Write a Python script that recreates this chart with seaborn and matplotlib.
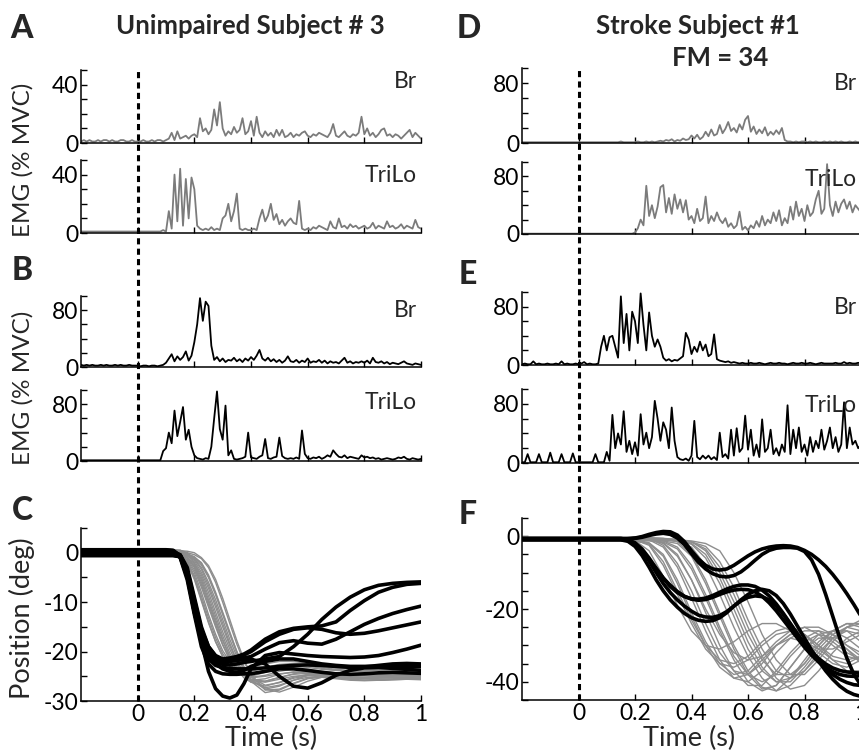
import numpy as np
import pandas as pd
import matplotlib
matplotlib.use("Agg")
import matplotlib.pyplot as plt
import seaborn as sns
from matplotlib.lines import Line2D

sns.set_theme(style="ticks")
plt.rcParams["font.family"] = ["Lato", "DejaVu Sans"]

# ---------------- EMG data (sampled every 0.01 s from -0.2 to 1.0 s) ----------------
t_emg = np.round(np.arange(-0.2, 1.0001, 0.01), 2)

emg_A_br = [1,2,1,2,1,1,2,1,2,2, 1,2,1,1,2,2,1,1,2,1,
            1,1,2,1,1,2,1,2,2,1,
            2,3,7,2,8,3,4,5,3,5,
            6,4,17,8,10,6,9,23,12,28,
            10,5,8,6,11,7,9,17,6,8,
            15,5,18,7,4,8,5,7,4,9,
            5,9,4,5,7,4,6,5,7,8,
            5,4,6,5,7,6,5,4,7,13,
            5,4,6,8,5,4,6,5,7,18,
            6,10,5,7,4,6,9,10,5,6,
            4,6,5,3,5,7,9,4,7,5,3]
emg_A_tri = [1,1,1,1,1,1,1,1,1,1, 1,1,1,1,1,1,1,1,1,1,
             1,1,1,1,1,1,1,1,1,2,
             1,15,3,40,8,44,5,37,10,38,
             30,5,3,2,3,2,4,2,3,2,
             10,12,20,8,15,27,3,2,3,2,
             2,3,2,10,16,8,12,20,9,13,
             6,9,5,8,10,7,6,22,3,2,
             3,2,4,3,5,4,3,2,8,4,
             3,10,4,5,3,6,4,5,3,4,
             5,3,4,7,3,5,4,3,8,4,
             5,3,4,6,3,5,4,3,9,4,3]
emg_B_br = [3,2,3,2,3,2,2,3,2,3, 2,2,3,2,3,2,2,3,2,2,
            2,1,2,2,1,2,2,1,2,3,
            6,12,18,8,15,10,14,22,9,16,
            35,60,97,65,92,86,30,10,14,8,
            12,7,10,9,13,8,11,7,12,9,
            14,10,16,24,12,9,13,8,11,7,
            10,6,9,15,8,7,10,6,9,7,
            12,6,8,7,10,6,9,5,8,6,
            7,5,9,13,6,8,5,7,6,8,
            6,9,5,13,7,6,8,5,7,4,
            6,5,4,6,8,5,4,3,5,4,3]
emg_B_tri = [1,1,1,1,1,1,1,1,1,1, 1,1,1,1,1,1,1,1,1,1,
             1,1,1,1,1,1,1,1,1,14,
             18,40,25,71,35,55,76,30,44,20,
             8,4,3,2,4,3,20,60,98,45,
             30,78,8,15,3,2,3,4,6,40,
             5,4,3,6,8,31,4,3,5,6,
             33,7,4,3,4,3,5,3,43,10,
             4,3,5,4,6,3,5,8,6,15,
             10,6,5,8,4,6,5,4,3,8,
             5,6,4,5,3,4,2,3,4,3,
             2,3,5,4,6,3,2,4,3,2,3]
emg_D_br = [1,1,1,1,1,1,1,1,1,1, 1,1,1,1,1,1,1,1,1,1,
            1,1,1,1,1,1,1,1,1,1,
            1,1,1,1,1,2,1,1,1,1,
            1,2,1,1,2,1,2,1,2,3,
            2,4,3,5,2,4,3,6,4,5,
            10,6,11,5,8,15,9,18,10,12,
            24,13,19,28,16,20,14,25,18,31,
            36,15,22,12,18,13,21,10,15,11,
            17,12,20,4,2,2,1,2,1,2,
            2,1,2,1,2,1,1,2,1,2,
            1,2,1,2,1,1,2,1,2,1,2]
emg_D_tri = [0.5]*20 + [0.5]*10 + [0.5]*10 + [
             2,8,20,12,67,25,40,22,38,65,
             68,30,50,28,55,35,48,30,47,20,
             25,15,35,18,22,52,15,25,18,30,
             20,15,22,10,15,8,12,31,6,10,
             5,12,8,18,10,25,12,20,15,30,
             18,33,12,22,15,38,20,45,25,35,
             18,40,25,30,48,60,28,35,97,40,
             25,45,30,42,48,35,45,30,40,35,30]
emg_E_br = [1,2,1,1,5,1,2,1,1,2, 1,1,2,1,5,1,2,1,1,2,
            1,2,4,1,2,1,1,2,25,40,
            20,38,40,25,10,94,30,70,20,73,
            60,30,98,55,20,72,40,25,35,25,
            10,6,8,5,7,6,9,12,44,35,
            15,25,18,32,20,28,12,15,42,8,
            6,5,4,5,3,4,3,2,3,2,
            2,3,2,2,3,2,1,2,3,2,
            2,3,2,2,1,2,3,2,2,3,
            2,2,3,2,1,2,3,2,2,2,
            2,3,2,2,4,2,3,2,2,3,2]
emg_E_tri = [1,1,12,1,1,1,12,1,1,1, 14,1,1,1,12,1,1,1,13,1,
             1,1,1,1,1,1,12,1,1,1,
             15,3,65,20,40,25,70,15,30,12,
             28,10,66,25,41,20,35,84,60,30,
             55,45,20,75,30,8,5,4,6,3,
             10,57,8,5,10,6,10,5,8,4,
             41,8,12,6,45,10,47,15,20,64,
             18,45,10,25,8,59,15,20,45,12,
             20,10,25,15,78,12,45,20,48,15,
             25,10,35,15,30,20,45,18,30,48,
             20,35,15,25,82,20,48,25,30,20,25]

# ---------------- Position data ----------------
t_C = [-0.2, 0.1, 0.125, 0.15, 0.175, 0.2, 0.225, 0.25, 0.275, 0.3, 0.325, 0.35, 0.375,
       0.4, 0.45, 0.5, 0.55, 0.6, 0.65, 0.7, 0.75, 0.8, 0.85, 0.9, 0.95, 1.0]

C_gray = [
    [0.3,0.3,0.3,-0.3,-2,-5,-9.5,-14,-18,-21,-23,-24,-24.5,-24.4,-23.8,-23.2,-23,-23.2,-23.6,-23.8,-23.9,-23.8,-23.6,-23.5,-23.6,-23.8],
    [-0.3,-0.3,-0.3,-0.4,-1,-3,-6.5,-10.5,-14.5,-18.5,-21.5,-23.5,-24.8,-25.3,-25,-24.5,-24.2,-24.3,-24.6,-24.9,-25,-24.9,-24.7,-24.6,-24.7,-24.9],
    [0.5,0.5,0.5,0.5,0,-2,-4.5,-8,-12,-16,-19.5,-22.5,-24.5,-25.8,-26.2,-25.6,-25,-24.8,-25,-25.3,-25.5,-25.5,-25.3,-25.2,-25.2,-25.4],
    [0,0,0,0,-0.3,-1.2,-3,-6,-9.5,-13.5,-17.5,-21,-23.8,-25.8,-27.3,-26.8,-25.8,-25.2,-25.2,-25.5,-25.8,-25.9,-25.8,-25.6,-25.5,-25.6],
    [-0.5,-0.5,-0.5,-0.5,-0.6,-0.9,-2,-4.5,-8,-12,-16,-20,-23.5,-26,-28.3,-27.8,-26.5,-25.5,-25.2,-25.3,-25.6,-25.8,-25.8,-25.7,-25.6,-25.7],
    [0.2,0.2,0.2,-0.2,-1.5,-4,-8,-12.5,-16.5,-19.8,-22,-23.3,-23.8,-23.8,-23.2,-22.6,-22.4,-22.6,-23,-23.3,-23.4,-23.3,-23.1,-23,-23.1,-23.3],
    [0.4,0.4,0.4,0.3,-0.8,-2.5,-5.5,-9.5,-13.5,-17.5,-21,-23.6,-25.3,-26.2,-26,-25.2,-24.6,-24.4,-24.6,-25,-25.2,-25.2,-25,-24.8,-24.8,-25],
    [-0.2,-0.2,-0.2,-0.2,-0.3,-1,-2.5,-5,-8.5,-12.5,-16.5,-20.3,-23.5,-25.8,-27.6,-27,-25.8,-24.8,-24.3,-24.3,-24.6,-24.9,-25,-25,-24.9,-24.9],
    [0,0,0,-0.1,-1.2,-3.5,-7,-11,-15,-18.7,-21.7,-23.7,-24.8,-25,-24.2,-23.3,-22.8,-22.8,-23.2,-23.6,-23.8,-23.8,-23.6,-23.4,-23.4,-23.6],
    [0.6,0.6,0.6,0.5,-0.2,-1.6,-4,-7.2,-11,-15,-18.8,-22,-24.3,-25.6,-26,-25.3,-24.5,-24,-24,-24.3,-24.6,-24.8,-24.8,-24.7,-24.6,-24.7],
    [0.1,0.1,0.1,0.1,0,-0.4,-1.2,-3,-6,-10,-14.3,-18.5,-22,-24.8,-27.6,-28.2,-27.2,-26,-25.2,-25,-25.2,-25.5,-25.7,-25.7,-25.6,-25.6],
    [-0.4,-0.4,-0.4,-0.5,-1.8,-4.6,-8.8,-13.2,-17.2,-20.4,-22.6,-23.8,-24.2,-24,-23.3,-22.7,-22.6,-22.9,-23.4,-23.8,-24,-24,-23.8,-23.7,-23.8,-24],
    [0.3,0.3,0.3,0.3,-0.4,-2.2,-5,-8.8,-12.8,-16.8,-20.3,-23,-24.8,-25.8,-25.5,-24.6,-24.1,-24.2,-24.6,-25,-25.3,-25.3,-25.1,-24.9,-24.9,-25.1],
    [-0.1,-0.1,-0.1,-0.1,-0.2,-0.8,-2.2,-4.8,-8.3,-12.3,-16.3,-20,-23,-25.2,-26.8,-26.3,-25.4,-24.9,-24.9,-25.2,-25.6,-25.8,-25.8,-25.6,-25.5,-25.5],
    [0.2,0.2,0.2,0.1,-0.9,-2.8,-6,-10,-14,-17.8,-21,-23.2,-24.6,-25.2,-24.8,-24,-23.5,-23.6,-24,-24.4,-24.6,-24.6,-24.4,-24.3,-24.4,-24.6],
    [-0.3,-0.3,-0.3,-0.3,-0.4,-1.3,-3.4,-6.6,-10.3,-14.3,-18.3,-21.8,-24.4,-26.2,-27,-26.2,-25.2,-24.6,-24.5,-24.8,-25.1,-25.3,-25.3,-25.2,-25.1,-25.2],
    [0.1,0.1,0.1,-0.3,-2.2,-5.4,-9.8,-14.2,-18,-21,-22.8,-23.6,-23.6,-23.2,-22.5,-22,-22,-22.4,-22.9,-23.2,-23.3,-23.2,-23,-22.9,-23,-23.2],
    [0.4,0.4,0.4,0.4,0.3,0,-1,-2.6,-5.4,-9.2,-13.5,-17.8,-21.6,-24.6,-27.8,-27.6,-26.4,-25.4,-24.8,-24.7,-25,-25.3,-25.5,-25.5,-25.4,-25.4],
]
C_black = [
    [0.3,0.3,0.3,-0.5,-3.5,-9.5,-15.5,-19,-20.8,-21.5,-21.3,-21,-20.5, -19.7,-17.5,-16,-15.3,-15,-14.8,-14,-11.7,-9.7,-8,-7,-6.4,-6.2],
    [-0.4,-0.4,-0.5,-0.8,-4.5,-11,-17,-20,-21.5,-22,-21.8,-21.3,-20.7, -20,-18,-16.5,-15.5,-15.2,-15.5,-16.2,-16.5,-16.3,-15.8,-15.2,-14.6,-14],
    [0.6,0.6,0.5,-0.6,-4,-10.5,-17,-20.5,-22,-22.6,-22.7,-22.5,-22.2, -22,-21.5,-21,-19,-16.5,-13.5,-11,-9,-7.5,-6.6,-6.2,-6,-5.9],
    [0,0,0,-0.4,-3,-9,-15,-19,-21,-21.8,-21.8,-21.6,-21.3, -21,-19.5,-18.2,-17.8,-18.3,-18.5,-17.5,-16,-14.5,-13.3,-12.3,-11.5,-10.8],
    [-0.6,-0.6,-0.6,-0.8,-4.5,-12,-18,-24,-27.5,-29,-29.4,-28.8,-26.5, -23.5,-20.8,-20.2,-20.5,-20.8,-21,-21.1,-21.2,-21.1,-20.8,-20.2,-19.5,-18.7],
    [0.2,0.2,0.1,-0.7,-4.2,-10.5,-16.5,-20,-21.6,-22,-22,-21.8,-21.6, -21.5,-22.5,-25,-27,-27.4,-26.3,-24.8,-23.8,-23.3,-23.2,-23.4,-23.6,-23.8],
    [-0.2,-0.2,-0.3,-0.9,-5,-12,-18,-21.5,-22.8,-23.2,-23.4,-23.5,-23.5, -23.5,-23.3,-23,-22.8,-22.7,-22.8,-23,-23.2,-23.1,-22.8,-22.5,-22.4,-22.5],
    [0.5,0.5,0.4,-1,-5.5,-12.5,-19,-22.5,-24,-24.5,-24.6,-24.6,-24.5, -24.5,-24,-23.5,-23.5,-23.8,-24.2,-24.5,-24.6,-24.5,-24.3,-24.2,-24.3,-24.4],
    [-0.5,-0.5,-0.5,-0.5,-3.8,-10,-16.5,-20.5,-22.5,-23.5,-24,-24.2,-23.8, -23,-22,-21.5,-21.5,-22,-22.5,-22.8,-23,-23,-23,-23,-23,-23],
]

t_F_gray = [-0.2, 0.15, 0.2, 0.25, 0.3, 0.35, 0.4, 0.45, 0.5, 0.55, 0.6, 0.65, 0.7, 0.75, 0.8, 0.85, 0.9, 0.95, 1.0]
F_gray = [
    [-0.8,-0.8,-1.2,-4,-11,-19,-26,-30,-31,-29,-26,-24,-24,-26,-29,-31,-31,-29,-27],
    [-0.8,-0.8,-1,-2.5,-8,-16,-24,-31,-35,-36,-34,-30,-27,-26,-27,-30,-33,-34,-33],
    [-1,-1,-1,-1.8,-5,-12,-21,-29,-35,-38,-37,-33,-29,-26,-25,-27,-30,-33,-34],
    [-0.5,-0.5,-0.5,-1,-3,-8.5,-17,-26,-34,-39,-40,-37,-32,-28,-26,-26,-29,-32,-34],
    [-0.8,-0.8,-0.8,-1,-1.8,-5,-12,-21,-30,-37,-41,-41,-37,-32,-28,-26,-27,-30,-33],
    [-1.2,-1.2,-1.2,-1.3,-1.6,-3.5,-9,-17,-26,-34,-40,-42.5,-41,-36,-31,-27,-26,-28,-31],
    [-0.3,-0.3,-0.3,-0.4,-0.6,-1.5,-5,-12,-21,-30,-37,-41.5,-42.5,-39,-34,-29,-26,-26,-29],
    [-0.8,-0.8,-0.8,-0.8,-1,-1.4,-3,-8,-16,-25,-33,-39,-42.5,-41,-37,-32,-28,-26,-27],
    [-1,-1,-1,-1,-1.1,-1.3,-2.2,-6,-13,-22,-31,-37,-40,-39,-35,-30,-26,-24,-25],
    [-0.6,-0.6,-0.6,-0.6,-0.7,-0.9,-1.5,-4,-10,-18,-27,-34,-38,-38,-35,-30,-26,-24,-24],
    [-0.9,-0.9,-0.9,-0.9,-1,-1.2,-1.6,-2.8,-7,-14,-23,-31,-37,-39,-37,-33,-28,-25,-24],
    [-0.8,-0.8,-0.8,-0.8,-0.8,-1,-1.3,-2,-4,-10,-18,-27,-34,-38,-38,-34,-29,-25,-23],
    [-1.4,-1.4,-1.4,-2,-5.5,-13,-22,-30,-36,-39,-38,-34,-30,-28,-29,-32,-35,-36,-34],
    [-0.2,-0.2,-0.2,-0.6,-2.5,-7.5,-15,-24,-32,-37,-38,-35,-30,-27,-27,-30,-34,-37,-37],
    [-0.8,-0.8,-0.8,-0.9,-1.3,-3,-8,-16,-25,-33,-38,-40,-38,-33,-29,-27,-28,-31,-34],
    [-1.1,-1.1,-1.1,-1.1,-1.3,-2,-5.5,-13,-22,-31,-38,-42,-41,-36,-31,-28,-28,-31,-35],
    [-0.5,-0.5,-0.5,-0.5,-0.6,-0.9,-2,-5,-11.5,-20,-29,-36,-40,-40,-36,-31,-27,-25,-26],
    [-0.9,-0.9,-1,-2.2,-7,-15,-23,-30,-34,-35,-33,-29,-26,-25,-27,-31,-34,-35,-33],
    [-0.7,-0.7,-0.7,-1,-2,-5.5,-12,-20,-27,-32,-34,-33,-30,-27,-25,-25,-27,-30,-32],
    [-1,-1,-1,-1,-1.1,-1.2,-1.6,-3.5,-8.5,-16,-25,-33,-39,-42,-41,-37,-32,-28,-26],
]

t_F_black = [-0.2, 0.15, 0.175, 0.2, 0.225, 0.25, 0.275, 0.3, 0.325, 0.35, 0.375, 0.4, 0.425,
             0.45, 0.475, 0.5, 0.525, 0.55, 0.575, 0.6, 0.625, 0.65, 0.675, 0.7, 0.725, 0.75,
             0.775, 0.8, 0.825, 0.85, 0.875, 0.9, 0.925, 0.95, 0.975, 1.0]
F_black = [
    [-0.8,-0.8,-0.7,-0.5,-0.1,0.5,1.0,1.3,1.2,0.3,-1.5,-4,-6.3,-8,-9,-9.3,-9,-8,-6.7,-5.4,-4.3,-3.5,-3,-2.7,-2.6,-2.7,-3.1,-3.9,-5,-6.5,-8.3,-10.5,-13,-15.8,-18.8,-22],
    [-0.8,-0.8,-0.8,-0.6,-0.3,0.2,0.6,0.8,0.5,-0.5,-2.3,-4.8,-7.2,-9,-10.3,-11,-11.2,-10.8,-9.8,-8.3,-6.6,-5,-3.9,-3.3,-3.1,-3.1,-3.3,-4.2,-6.5,-10.5,-16,-22,-28,-33.5,-38,-41],
    [-0.8,-0.8,-1.2,-2.2,-4,-6.5,-9,-11.5,-13.5,-15.2,-16.5,-17.3,-17.6,-17.4,-16.8,-16,-15.3,-14.8,-14.6,-14.7,-15.3,-16.5,-18.3,-20.5,-23,-25.5,-28,-30.5,-32.7,-34.5,-36,-37.2,-38,-38.4,-38.5,-38.3],
    [-0.6,-0.6,-1,-2,-4,-6.8,-10,-13,-15.5,-17.5,-19.2,-20.6,-21.7,-22.2,-22.3,-21.8,-20.7,-19.2,-17.8,-16.8,-16.4,-16.6,-17.5,-19.2,-21.5,-24.2,-27,-29.8,-32.3,-34.5,-36.4,-38,-39.3,-40.2,-40.8,-41],
    [-1,-1,-1.4,-2.8,-5.3,-8.5,-12,-15,-17.5,-19.5,-21.2,-22.4,-23.1,-23.4,-23.2,-22.4,-21,-19.2,-17.5,-16,-15,-14.6,-15,-16.3,-18.5,-21.4,-24.7,-28,-31.3,-34.3,-37,-39.3,-41.2,-42.6,-43.5,-44],
    [-0.9,-0.9,-1.1,-1.8,-3.5,-6,-8.8,-11.5,-13.8,-15.5,-16.6,-17.2,-17.3,-17,-16.3,-15.4,-14.5,-13.8,-13.4,-13.4,-13.8,-14.8,-16.4,-18.6,-21.2,-24,-26.8,-29.4,-31.7,-33.6,-35.1,-36.2,-36.9,-37.3,-37.5,-37.6],
]

x_ticks = [0, 0.2, 0.4, 0.6, 0.8, 1.0]
x_ticklabels = ["0", "0.2", "0.4", "0.6", "0.8", "1"]

# ---------------- Layout ----------------
W, H = 859, 756
fig = plt.figure(figsize=(W / 100, H / 100), dpi=100)
fig.patch.set_facecolor("white")

TICK_FS = 16.5


def make_ax(l, t, r, b):
    return fig.add_axes([l / W, 1 - b / H, (r - l) / W, (b - t) / H])


def style(ax, ylim, yticks, ylabels, xlabels=False):
    ax.set_xlim(-0.2, 1.0)
    ax.set_ylim(*ylim)
    sns.despine(ax=ax)
    ax.set_xticks(x_ticks)
    ax.set_xticklabels(x_ticklabels if xlabels else [])
    ax.set_yticks(yticks)
    ax.set_yticklabels(ylabels)
    ax.tick_params(direction="in", length=4, width=1, colors="black", labelsize=TICK_FS, pad=2)
    for s in ["left", "bottom"]:
        ax.spines[s].set_linewidth(1.1)
        ax.spines[s].set_color("black")
    ax.set_xlabel("")
    ax.set_ylabel("")
    ax.set_facecolor("none")


def emg(ax, vals, color, label, ly):
    sns.lineplot(x=t_emg, y=vals, ax=ax, color=color, lw=1.3, estimator=None)
    ax.text(0.988, ly, label, transform=ax.transAxes, ha="right", va="center", fontsize=16.5)


def pos_df(tt, curves):
    rows = []
    for i, c in enumerate(curves):
        for a, v in zip(tt, c):
            rows.append((i, a, v))
    return pd.DataFrame(rows, columns=["trial", "t", "pos"])


GRAY_EMG = "#7b7b7b"
GRAY_POS = "#8d8d8d"

L, R = 81, 421
RL, RR = 522, 861

axA1 = make_ax(L, 70, R, 143)
axA2 = make_ax(L, 160, R, 233)
axB1 = make_ax(L, 296, R, 367)
axB2 = make_ax(L, 390, R, 461)
axC = make_ax(L, 528, R, 701)
axD1 = make_ax(RL, 68, RR, 143)
axD2 = make_ax(RL, 162, RR, 234)
axE1 = make_ax(RL, 292, RR, 365)
axE2 = make_ax(RL, 389, RR, 463)
axF = make_ax(RL, 518, RR, 700)

emg(axA1, emg_A_br, GRAY_EMG, "Br", 0.84)
emg(axA2, emg_A_tri, GRAY_EMG, "TriLo", 0.79)
emg(axB1, emg_B_br, "black", "Br", 0.80)
emg(axB2, emg_B_tri, "black", "TriLo", 0.83)
emg(axD1, emg_D_br, GRAY_EMG, "Br", 0.80)
emg(axD2, emg_D_tri, GRAY_EMG, "TriLo", 0.75)
emg(axE1, emg_E_br, "black", "Br", 0.79)
emg(axE2, emg_E_tri, "black", "TriLo", 0.78)

for ax in (axA1, axA2):
    style(ax, (0, 50), [0, 10, 20, 30, 40, 50], ["0", "", "", "", "40", ""])
for ax in (axB1, axB2, axD1, axD2, axE1, axE2):
    style(ax, (0, 100), [0, 20, 40, 60, 80, 100], ["0", "", "", "", "80", ""])

sns.lineplot(data=pos_df(t_C, C_gray), x="t", y="pos", units="trial", estimator=None,
             color=GRAY_POS, lw=1.0, ax=axC, legend=False)
sns.lineplot(data=pos_df(t_C, C_black), x="t", y="pos", units="trial", estimator=None,
             color="black", lw=2.6, ax=axC, legend=False)
style(axC, (-30, 5), [-30, -25, -20, -15, -10, -5, 0, 5],
      ["-30", "", "-20", "", "-10", "", "0", ""], xlabels=True)

sns.lineplot(data=pos_df(t_F_gray, F_gray), x="t", y="pos", units="trial", estimator=None,
             color=GRAY_POS, lw=1.0, ax=axF, legend=False)
sns.lineplot(data=pos_df(t_F_black, F_black), x="t", y="pos", units="trial", estimator=None,
             color="black", lw=2.6, ax=axF, legend=False)
style(axF, (-45, 5), [-45, -40, -35, -30, -25, -20, -15, -10, -5, 0, 5],
      ["", "-40", "", "", "", "-20", "", "", "", "0", ""], xlabels=True)

# dashed movement-onset lines spanning each column
inv = fig.transFigure.inverted()
for top_ax, bot_ax in ((axA1, axC), (axD1, axF)):
    x0 = inv.transform(top_ax.transData.transform((0, 0)))[0]
    y_top = top_ax.get_position().y1
    y_bot = bot_ax.get_position().y0
    fig.add_artist(Line2D([x0, x0], [y_bot, y_top], transform=fig.transFigure,
                          color="black", lw=2.2, ls=(0, (2, 1.4)), zorder=5))


def ftext(x, y, s, **kw):
    fig.text(x / W, 1 - y / H, s, **kw)


for (x, y, s) in [(22, 28, "A"), (469, 28, "D"), (22, 270, "B"),
                  (468, 274, "E"), (22, 510, "C"), (468, 514, "F")]:
    ftext(x, y, s, fontsize=23, fontweight="black", ha="center", va="center")

ftext(250, 26, "Unimpaired Subject # 3", fontsize=18.5, fontweight="bold", ha="center", va="center")
ftext(698, 26, "Stroke Subject #1", fontsize=18.5, fontweight="bold", ha="center", va="center")
ftext(720, 58, "FM = 34", fontsize=18.5, fontweight="bold", ha="center", va="center")

ftext(23, 160, "EMG (% MVC)", fontsize=17.5, rotation=90, ha="center", va="center")
ftext(23, 388, "EMG (% MVC)", fontsize=17.5, rotation=90, ha="center", va="center")
ftext(22, 618, "Position (deg)", fontsize=19.5, rotation=90, ha="center", va="center")
ftext(271, 738, "Time (s)", fontsize=19.5, ha="center", va="center")
ftext(689, 738, "Time (s)", fontsize=19.5, ha="center", va="center")

fig.savefig("out.png", dpi=100, facecolor="white")
